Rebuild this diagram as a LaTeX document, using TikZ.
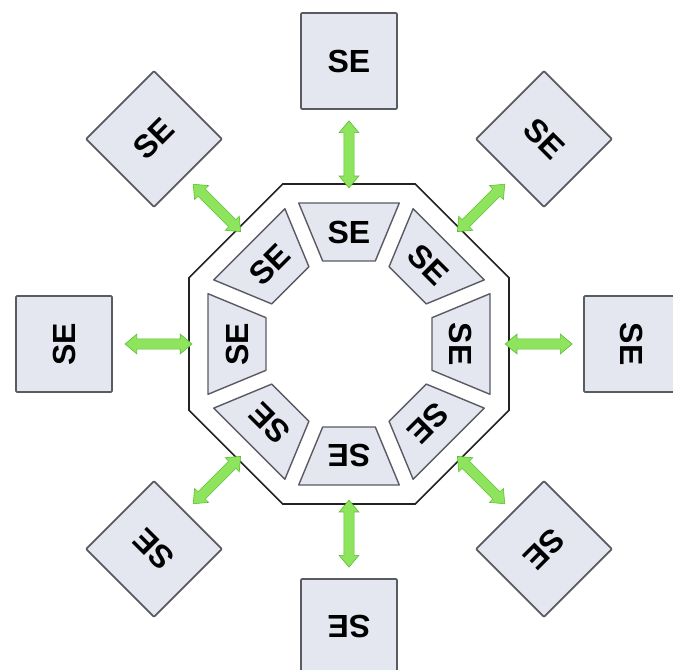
\documentclass[tikz,border=0pt]{standalone}
\usepackage{fontspec}
\setmainfont{Liberation Sans}
\usetikzlibrary{calc,shapes.arrows}
\definecolor{boxfill}{HTML}{E4E6F0}
\definecolor{boxline}{HTML}{5A5A62}
\definecolor{ringline}{HTML}{222222}
\definecolor{arrowfill}{HTML}{8EE45C}
\definecolor{arrowline}{HTML}{5BBF34}
\tikzset{
  x=1pt, y=1pt,
  selabel/.style={font=\fontsize{32}{38}\selectfont\bfseries, inner sep=0pt},
  sebox/.style={selabel, draw=boxline, line width=1.7pt, fill=boxfill,
    minimum size=96pt, rounded corners=1pt},
  segment/.style={draw=boxline, line width=1.4pt, fill=boxfill, line join=round},
  ring/.style={draw=ringline, line width=1.6pt, fill=white, line join=miter},
  link/.style={double arrow, draw=arrowline, fill=arrowfill, line width=0.6pt,
    inner xsep=0pt, inner ysep=4.8pt, double arrow head extend=4.8pt,
    double arrow tip angle=80, minimum height=67pt},
}
\begin{document}
\begin{tikzpicture}
  \useasboundingbox (-349,-326) rectangle (324,344);
  % outer octagon frame
  \draw[ring] (22.5:173.2) \foreach \k in {1,...,7}{ -- (22.5+45*\k:173.2)} -- cycle;
  % ring of eight segments and the outer units
  \foreach \a/\p [count=\i] in {90/{(0,283)}, 45/{(195,205)}, 0/{(283,0)},
      -45/{(195,-205)}, -90/{(0,-283)}, -135/{(-195,-205)}, 180/{(-285,0)},
      135/{(-195,205)}} {
    \begin{scope}[rotate=\a-90]
      \draw[segment] (-50.3,141) -- (50.3,141) -- (26.3,83) -- (-26.3,83) -- cycle;
    \end{scope}
    \node[selabel, rotate=\a-90] (s\i) at (\a:112) {SE};
    \coordinate (e\i) at (\a:160);
    \node[sebox, rotate=\a-90] (b\i) at \p {SE};
    \node[link, rotate=\a] (l\i) at ($(e\i)!0.4!(b\i.south)$) {};
  }
\end{tikzpicture}
\end{document}
